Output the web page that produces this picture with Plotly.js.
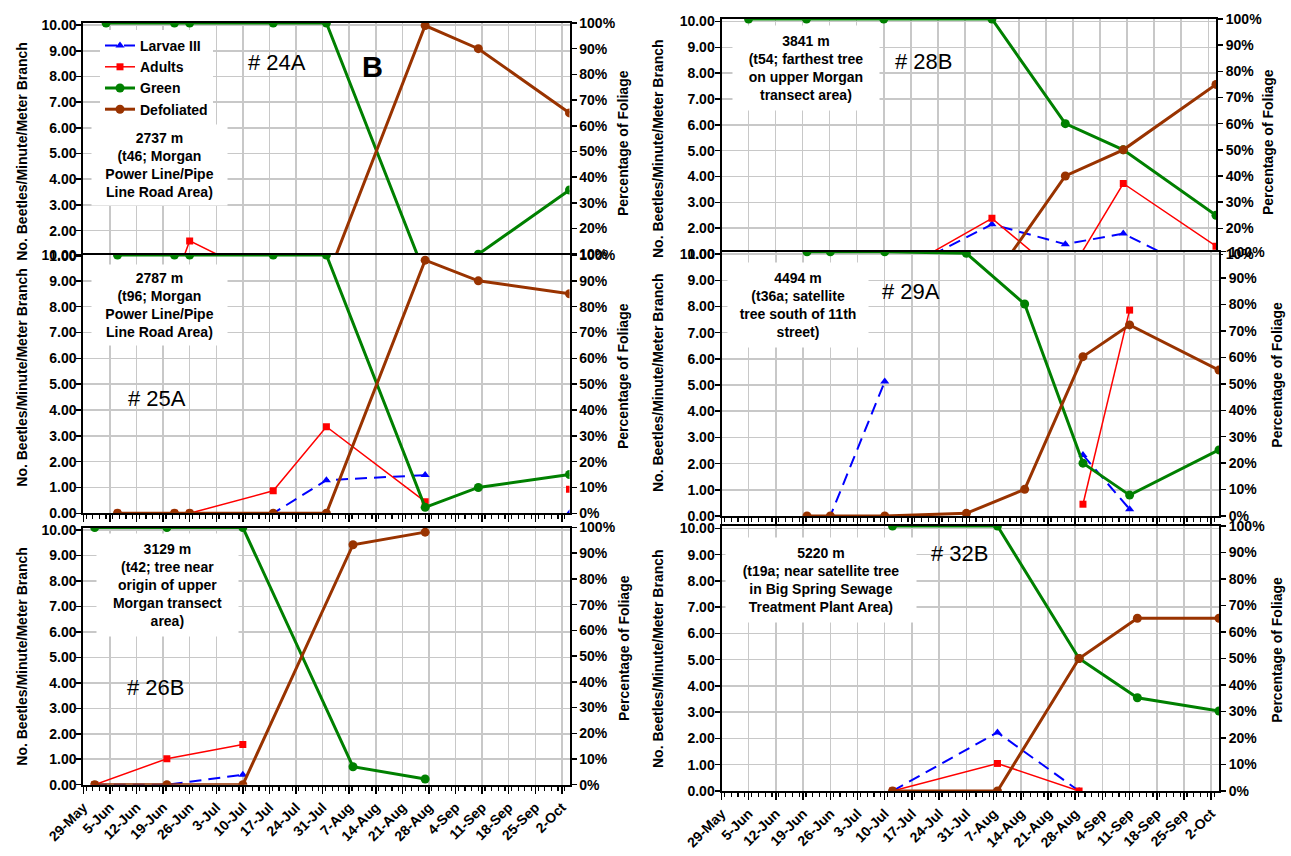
<!DOCTYPE html>
<html><head><meta charset="utf-8">
<script src="https://cdn.plot.ly/plotly-3.0.1.min.js"></script>
<style>html,body{margin:0;padding:0;background:#fff}</style>
</head><body><div id="chart" style="width:1291px;height:856px"></div>
<script>
// ---------- DATA ----------
const seriesNames = ['Larvae III', 'Adults', 'Green', 'Defoliated'];

const dates24A   = ['2011-06-04','2011-06-22','2011-06-26','2011-07-18','2011-08-01','2011-08-27','2011-09-10','2011-10-04'];
const larvae24A  = [0, 0, 0, 0, 0, 0, 0, 0];
const adults24A  = [0, 0, 1.6, 0, 0, 0, 0, 0];
const green24A   = [100, 100, 100, 100, 100, 2, 10, 35];
const defol24A   = [0, 0, 0, 0, 0, 99, 90, 65];

const dates25A   = ['2011-06-07','2011-06-22','2011-06-26','2011-07-18','2011-08-01','2011-08-27','2011-09-10','2011-10-04'];
const larvae25A  = [0, 0, 0, 0, 1.28, 1.48, null, 0];
const adults25A  = [0, 0, 0, 0.87, 3.35, 0.45, null, 0.93];
const green25A   = [100, 100, 100, 100, 100, 2.3, 10, 15];
const defol25A   = [0, 0, 0, 0, 0, 98, 90, 85];

const dates26B   = ['2011-06-01','2011-06-20','2011-07-10','2011-08-08','2011-08-27'];
const larvae26B  = [0, 0, 0.39, null, null];
const adults26B  = [0, 1.02, 1.58, null, null];
const green26B   = [100, 100, 100, 7, 2.2];
const defol26B   = [0, 0, 0, 93.3, 98.2];

const dates28B   = ['2011-06-05','2011-06-20','2011-07-10','2011-08-07','2011-08-26','2011-09-10','2011-10-04'];
const larvae28B  = [0, 0, 0, 2.15, 1.38, 1.79, 0];
const adults28B  = [0, 0, 0, 2.38, 0, 3.73, 1.3];
const green28B   = [100, 100, 100, 100, 60, 50, 25];
const defol28B   = [0, 0, 0, 0, 40, 50, 75];

const dates29A   = ['2011-06-20','2011-06-26','2011-07-10','2011-07-31','2011-08-15','2011-08-30','2011-09-11','2011-10-04'];
const larvae29A  = [0, 0, 5.13, null, null, 2.33, 0.26, null];
const adults29A  = [null, null, null, null, null, 0.45, 7.86, null];
const green29A   = [100, 100, 100, 99.4, 80.2, 20, 7.9, 25];
const defol29A   = [0, 0, 0, 1, 10.1, 60.3, 72.3, 55.2];

const dates32B   = ['2011-07-12','2011-08-08','2011-08-29','2011-09-13','2011-10-04'];
const larvae32B  = [0, 2.23, 0, null, null];
const adults32B  = [0, 1.05, 0, null, null];
const green32B   = [100, 100, 50, 35.2, 30.2];
const defol32B   = [0, 0, 50, 65.2, 65.2];

const panelIds   = ['# 24A', '# 25A', '# 26B', '# 28B', '# 29A', '# 32B'];
const siteLabels = [
  '2737 m<br>(t46; Morgan<br>Power Line/Pipe<br>Line Road Area)',
  '2787 m<br>(t96; Morgan<br>Power Line/Pipe<br>Line Road Area)',
  '3129 m<br>(t42; tree near<br>origin of upper<br>Morgan transect<br>area)',
  '3841 m<br>(t54; farthest tree<br>on upper Morgan<br>transect area)',
  '4494 m<br>(t36a; satellite<br>tree south of 11th<br>street)',
  '5220 m<br>(t19a; near satellite tree<br>in Big Spring Sewage<br>Treatment Plant Area)'
];
const leftTitle  = 'No. Beetles/Minute/Meter Branch';
const rightTitle = 'Percentage of Foliage';
const xStart = '2011-05-29', xEnd = '2011-10-04';

// ---------- LAYOUT GEOMETRY ----------
const W = 1291, H = 856;
const fx = p => p / W, fy = p => 1 - p / H;
const FONT = 'Liberation Sans, Arial, sans-serif';
const COLORS = ['#0000ff', '#ff0000', '#008000', '#993300'];

const panels = [
  {d:dates24A, s:[larvae24A,adults24A,green24A,defol24A], x:[83.3,569.5], y:[23,256.3], L:[1.0,10.08], R:[9.2,100], pos:'top',
   lt:[21.7,151], rt:[623,143], box:[159.5,165,127,72], id:[276.5,62.5]},
  {d:dates25A, s:[larvae25A,adults25A,green25A,defol25A], x:[83.3,569.5], y:[255,513.3], L:[0,10], R:[0,100], pos:'mid',
   lt:[21.7,377], rt:[623,376], box:[159.5,305,127,72], id:[157,398]},
  {d:dates26B, s:[larvae26B,adults26B,green26B,defol26B], x:[83.3,569.5], y:[527.5,784.7], L:[0,10.1], R:[0,100], pos:'bot',
   lt:[21.7,656], rt:[624,648], box:[167,585,133,94], id:[156,687]},
  {d:dates28B, s:[larvae28B,adults28B,green28B,defol28B], x:[721.5,1216], y:[19,254.5], L:[0.98,10.1], R:[10,100], pos:'top',
   lt:[658,148], rt:[1268,142], box:[806,68,138,76], id:[924,62]},
  {d:dates29A, s:[larvae29A,adults29A,green29A,defol29A], x:[721.5,1219], y:[251.7,516], L:[0,10.09], R:[0,100], pos:'mid',
   lt:[658,382], rt:[1276.7,375], box:[798,305,132,76], id:[911,291]},
  {d:dates32B, s:[larvae32B,adults32B,green32B,defol32B], x:[721.5,1219], y:[526,791], L:[0,10.09], R:[0,100], pos:'bot',
   lt:[658,658], rt:[1276.7,650], box:[821,580,182,76], id:[960,553]}
];

const traces = [];
const layout = {
  width: W, height: H, margin: {l:0, r:0, t:0, b:0},
  paper_bgcolor: '#fff', plot_bgcolor: '#fff',
  showlegend: true,
  legend: {x: fx(100), y: fy(30), xanchor: 'left', yanchor: 'top', bgcolor: '#fff',
           font: {family: FONT, size: 14, color: '#000', weight: 'bold'}, tracegroupgap: 0, itemwidth: 30},
  annotations: [], shapes: []
};
const tickfont = {family: FONT, size: 14, color: '#000', weight: 'bold'};
const GRID = '#c8c8c8';

panels.forEach((p, i) => {
  const n = i + 1, yl = 2 * i + 1, yr = 2 * i + 2;
  const xa = 'x' + (n === 1 ? '' : n), yla = 'y' + (yl === 1 ? '' : yl), yra = 'y' + yr;
  const xk = 'xaxis' + (n === 1 ? '' : n), ylk = 'yaxis' + (yl === 1 ? '' : yl), yrk = 'yaxis' + yr;
  const styles = [
    {line:{color:COLORS[0], width:2, dash:'12px,7px'}, marker:{symbol:'triangle-up', size:8, color:COLORS[0]}, ax:yla},
    {line:{color:COLORS[1], width:1.5}, marker:{symbol:'square', size:7, color:COLORS[1]}, ax:yla},
    {line:{color:COLORS[2], width:3}, marker:{symbol:'circle', size:9, color:COLORS[2]}, ax:yra},
    {line:{color:COLORS[3], width:3}, marker:{symbol:'circle', size:9, color:COLORS[3]}, ax:yra}
  ];
  p.s.forEach((vals, k) => {
    traces.push({type:'scatter', mode:'lines+markers', name: seriesNames[k], x: p.d, y: vals,
      xaxis: xa, yaxis: styles[k].ax, line: styles[k].line, marker: styles[k].marker,
      connectgaps: false, showlegend: i === 0, hoverinfo: 'x+y'});
  });
  const isTop = p.pos === 'top', isBot = p.pos === 'bot';
  layout[xk] = {
    type: 'date', domain: [fx(p.x[0]), fx(p.x[1])], range: [xStart, xEnd], anchor: yla,
    tick0: xStart, dtick: 7 * 864e5, tickformat: '%-d-%b', tickangle: -45,
    showgrid: true, gridcolor: GRID, gridwidth: 1.5,
    showline: true, linecolor: '#000', linewidth: 2,
    side: isTop ? 'top' : 'bottom', mirror: !isTop,
    ticks: isTop ? '' : 'outside', ticklen: 7, tickwidth: 1.5, tickcolor: '#000',
    minor: isTop ? {ticks: ''} : {dtick: 1.75 * 864e5, ticks: 'outside', ticklen: 4, tickwidth: 1.2, tickcolor: '#000', showgrid: false},
    showticklabels: isBot, tickfont: tickfont, fixedrange: true
  };
  layout[ylk] = {
    domain: [fy(p.y[1]), fy(p.y[0])], range: p.L, anchor: xa, side: 'left',
    tick0: 0, dtick: 1, tickformat: '.2f', ticks: 'outside', ticklen: 5, tickwidth: 1.5, tickcolor: '#000',
    ticklabelstandoff: -3,
    showline: true, linecolor: '#000', linewidth: 2, showgrid: true, gridcolor: GRID, gridwidth: 1.5,
    zeroline: false, tickfont: tickfont, fixedrange: true
  };
  layout[yrk] = {
    overlaying: yla, side: 'right', anchor: xa, range: p.R,
    tick0: 0, dtick: 10, ticksuffix: '%', ticks: 'outside', ticklen: 5, tickwidth: 1.5, tickcolor: '#000',
    showline: true, linecolor: '#000', linewidth: 2, showgrid: false, zeroline: false, tickfont: tickfont, fixedrange: true
  };
  layout.annotations.push(
    {xref:'paper', yref:'paper', x: fx(p.lt[0]), y: fy(p.lt[1]), text: leftTitle, textangle: -90, showarrow:false,
     xanchor:'center', yanchor:'middle', font:{family:FONT, size:14, color:'#000', weight:'bold'}},
    {xref:'paper', yref:'paper', x: fx(p.rt[0]), y: fy(p.rt[1]), text: rightTitle, textangle: -90, showarrow:false,
     xanchor:'center', yanchor:'middle', font:{family:FONT, size:14, color:'#000', weight:'bold'}},
    {xref:'paper', yref:'paper', x: fx(p.box[0]), y: fy(p.box[1]), text: siteLabels[i], showarrow:false,
     xanchor:'center', yanchor:'middle', align:'center', bgcolor:'#fff', borderpad:4, width:p.box[2], height:p.box[3],
     font:{family:FONT, size:14, color:'#000', weight:'bold'}},
    {xref:'paper', yref:'paper', x: fx(p.id[0]), y: fy(p.id[1]), text: panelIds[i], showarrow:false,
     xanchor:'center', yanchor:'middle', font:{family:FONT, size:22, color:'#000'}}
  );
});
layout.annotations.push({xref:'paper', yref:'paper', x: fx(372), y: fy(67), text:'B', showarrow:false,
  xanchor:'center', yanchor:'middle', font:{family:FONT, size:29, color:'#000', weight:'bold'}});

Plotly.newPlot('chart', traces, layout, {staticPlot: true, displayModeBar: false});
</script></body></html>
